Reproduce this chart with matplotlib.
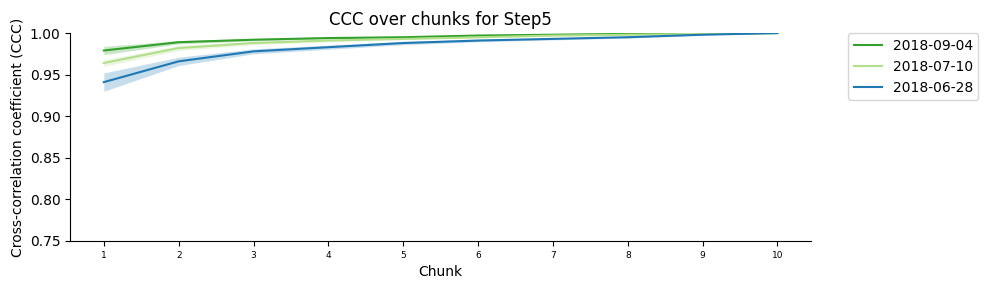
import matplotlib
matplotlib.use("Agg")
import matplotlib.pyplot as plt

chunks = [1, 2, 3, 4, 5, 6, 7, 8, 9, 10]

labels = ["2018-09-04", "2018-07-10", "2018-06-28"]
colors = ["#33a02c", "#b2df8a", "#1f78b4"]

ccc_0904 = [0.979, 0.989, 0.992, 0.994, 0.995, 0.997, 0.998, 0.999, 0.9995, 1.0]
ccc_0710 = [0.964, 0.982, 0.988, 0.991, 0.993, 0.995, 0.997, 0.998, 0.999, 1.0]
ccc_0628 = [0.941, 0.966, 0.978, 0.983, 0.988, 0.991, 0.993, 0.995, 0.998, 1.0]

err_0904 = [0.005, 0.002, 0.0015, 0.001, 0.001, 0.001, 0.0008, 0.0005, 0.0003, 0.0]
err_0710 = [0.004, 0.003, 0.002, 0.0015, 0.001, 0.001, 0.0008, 0.0005, 0.0003, 0.0]
err_0628 = [0.011, 0.005, 0.003, 0.0025, 0.002, 0.0015, 0.0012, 0.001, 0.0005, 0.0]

series = [ccc_0904, ccc_0710, ccc_0628]
errors = [err_0904, err_0710, err_0628]

fig = plt.figure(figsize=(9.88, 2.9), dpi=100)
ax = fig.add_axes([0.071, 0.169, 0.75, 0.717])

for vals, err, lab, col in zip(series, errors, labels, colors):
    lo = [v - e for v, e in zip(vals, err)]
    hi = [min(v + e, 1.0) for v, e in zip(vals, err)]
    ax.fill_between(chunks, lo, hi, color=col, alpha=0.25, linewidth=0)
    ax.plot(chunks, vals, color=col, label=lab, linewidth=1.5)

ax.set_ylim(0.75, 1.0)
ax.set_xlim(0.55, 10.45)
ax.set_xticks(chunks)
ax.tick_params(axis="x", labelsize=6.5)
ax.set_xlabel("Chunk")
ax.set_ylabel("Cross-correlation coefficient (CCC)")
ax.set_title("CCC over chunks for Step5")
ax.spines["top"].set_visible(False)
ax.spines["right"].set_visible(False)
ax.legend(loc="upper left", bbox_to_anchor=(1.05, 1.0), borderaxespad=0)

fig.savefig("out.png", dpi=100)
